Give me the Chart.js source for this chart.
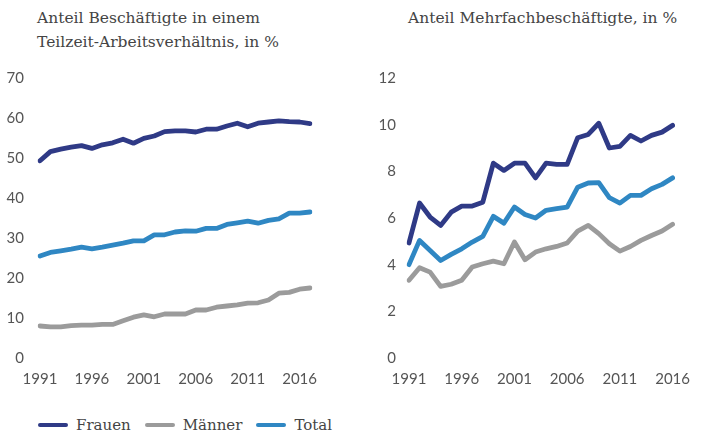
<!DOCTYPE html>
<html>
<head>
<meta charset="utf-8">
<script src="https://cdn.jsdelivr.net/npm/chart.js@4.4.1/dist/chart.umd.min.js"></script>
<style>
    html, body { margin: 0; padding: 0; background: #fff; }
    body { width: 702px; height: 436px; position: relative; overflow: hidden; }
    .title { position: absolute; font-family: 'DejaVu Serif', serif; font-size: 15.5px; color: #444; line-height: 24px; }
    .box { position: absolute; top: 0; height: 400px; }
    #legend { position: absolute; left: 38px; top: 416px; font-family: 'DejaVu Serif', serif; font-size: 15px; color: #444; }
    #legend span.item { display: inline-block; margin-right: 14px; }
    #legend span.swatch { display: inline-block; width: 30px; height: 4px; border-radius: 2px; vertical-align: middle; margin-right: 8px; position: relative; top: -1px; }
</style>
</head>
<body>
<div class="title" style="left:37px; top:6px;">Anteil Beschäftigte in einem<br>Teilzeit-Arbeitsverhältnis, in %</div>
<div class="title" style="left:408px; top:6px;">Anteil Mehrfachbeschäftigte, in %</div>
<div class="box" style="left:0; width:330px;"><canvas id="teilzeitChart"></canvas></div>
<div class="box" style="left:370px; width:332px;"><canvas id="mehrfachChart"></canvas></div>
<div id="legend"></div>

<script>
// Categories
const yearsTeilzeit = ['1991','1992','1993','1994','1995','1996','1997','1998','1999','2000',
    '2001','2002','2003','2004','2005','2006','2007','2008','2009','2010',
    '2011','2012','2013','2014','2015','2016','2017'];
const yearsMehrfach = ['1991','1992','1993','1994','1995','1996','1997','1998','1999','2000',
    '2001','2002','2003','2004','2005','2006','2007','2008','2009','2010',
    '2011','2012','2013','2014','2015','2016'];
const xTickLabels = ['1991', '1996', '2001', '2006', '2011', '2016'];

// Teilzeit, in %
const teilzeitFrauen = [49.3, 51.6, 52.2, 52.7, 53.1, 52.4, 53.3, 53.8, 54.7, 53.7,
    54.9, 55.5, 56.6, 56.8, 56.8, 56.5, 57.2, 57.2, 58.0, 58.7,
    57.8, 58.7, 59.0, 59.3, 59.1, 59.0, 58.6];
const teilzeitMaenner = [8.0, 7.8, 7.8, 8.1, 8.2, 8.2, 8.4, 8.4, 9.3, 10.2,
    10.8, 10.3, 11.0, 11.0, 11.0, 12.0, 12.0, 12.7, 13.0, 13.3,
    13.7, 13.8, 14.5, 16.2, 16.4, 17.2, 17.5];
const teilzeitTotal = [25.5, 26.4, 26.8, 27.2, 27.7, 27.3, 27.7, 28.2, 28.7, 29.3,
    29.3, 30.8, 30.8, 31.5, 31.8, 31.7, 32.4, 32.4, 33.4, 33.8,
    34.2, 33.7, 34.4, 34.8, 36.2, 36.2, 36.5];

// Mehrfachbeschäftigte, in %
const mehrfachFrauen = [4.93, 6.64, 6.04, 5.68, 6.25, 6.51, 6.51, 6.68, 8.35, 8.04,
    8.35, 8.35, 7.72, 8.35, 8.30, 8.30, 9.44, 9.58, 10.06, 9.00,
    9.07, 9.54, 9.30, 9.54, 9.68, 9.97];
const mehrfachMaenner = [3.33, 3.87, 3.68, 3.07, 3.16, 3.33, 3.90, 4.04, 4.15, 4.04,
    4.97, 4.21, 4.54, 4.68, 4.78, 4.93, 5.44, 5.68, 5.33, 4.90,
    4.58, 4.78, 5.04, 5.25, 5.44, 5.73];
const mehrfachTotal = [4.00, 5.04, 4.61, 4.18, 4.44, 4.68, 4.97, 5.21, 6.07, 5.78,
    6.47, 6.15, 6.00, 6.33, 6.40, 6.47, 7.32, 7.50, 7.52, 6.87,
    6.64, 6.97, 6.97, 7.25, 7.44, 7.72];

const seriesNames = ['Frauen', 'Männer', 'Total'];
const seriesColors = ['#2f3a86', '#9b9b9b', '#2f87c3'];

const tickFont = { family: 'Lato', size: 15 };
const tickColor = '#555';

function makeDatasets(values) {
    return values.map(function(data, i) {
        return {
            label: seriesNames[i],
            data: data,
            borderColor: seriesColors[i],
            backgroundColor: seriesColors[i],
            borderWidth: 4.8,
            pointRadius: 0,
            tension: 0,
            borderJoinStyle: 'round',
            borderCapStyle: 'round'
        };
    });
}

function makeChart(id, labels, values, yMax, yStep, yWidth, yPad, rightPad) {
    new Chart(document.getElementById(id), {
        type: 'line',
        data: {
            labels: labels,
            datasets: makeDatasets(values)
        },
        options: {
            responsive: false,
            animation: false,
            maintainAspectRatio: false,
            layout: { padding: { top: 78, left: 0, right: rightPad, bottom: 0 } },
            plugins: {
                legend: { display: false },
                tooltip: { enabled: false }
            },
            scales: {
                x: {
                    grid: { display: false, drawTicks: false },
                    border: { display: false },
                    ticks: {
                        autoSkip: false,
                        maxRotation: 0,
                        padding: 12,
                        font: tickFont,
                        color: tickColor,
                        callback: function(value) {
                            const lbl = this.getLabelForValue(value);
                            return xTickLabels.includes(lbl) ? lbl : '';
                        }
                    },
                    afterFit: function(scale) { scale.height = 42; }
                },
                y: {
                    min: 0,
                    max: yMax,
                    grid: { display: false, drawTicks: false },
                    border: { display: false },
                    ticks: {
                        stepSize: yStep,
                        padding: yPad,
                        font: tickFont,
                        color: tickColor
                    },
                    afterFit: function(scale) { scale.width = yWidth; }
                }
            }
        }
    });
}

function sizeCanvas(id, w, h) {
    const c = document.getElementById(id);
    c.width = w; c.height = h;
    c.style.width = w + 'px'; c.style.height = h + 'px';
}

sizeCanvas('teilzeitChart', 330, 400);
sizeCanvas('mehrfachChart', 332, 400);

makeChart('teilzeitChart', yearsTeilzeit, [teilzeitFrauen, teilzeitMaenner, teilzeitTotal], 70, 10, 40, 16, 20);
makeChart('mehrfachChart', yearsMehrfach, [mehrfachFrauen, mehrfachMaenner, mehrfachTotal], 12, 2, 39, 13, 20);

// Legend
const legend = document.getElementById('legend');
seriesNames.forEach(function(name, i) {
    const item = document.createElement('span');
    item.className = 'item';
    item.innerHTML = '<span class="swatch" style="background:' + seriesColors[i] + '"></span>' + name;
    legend.appendChild(item);
});
</script>
</body>
</html>
